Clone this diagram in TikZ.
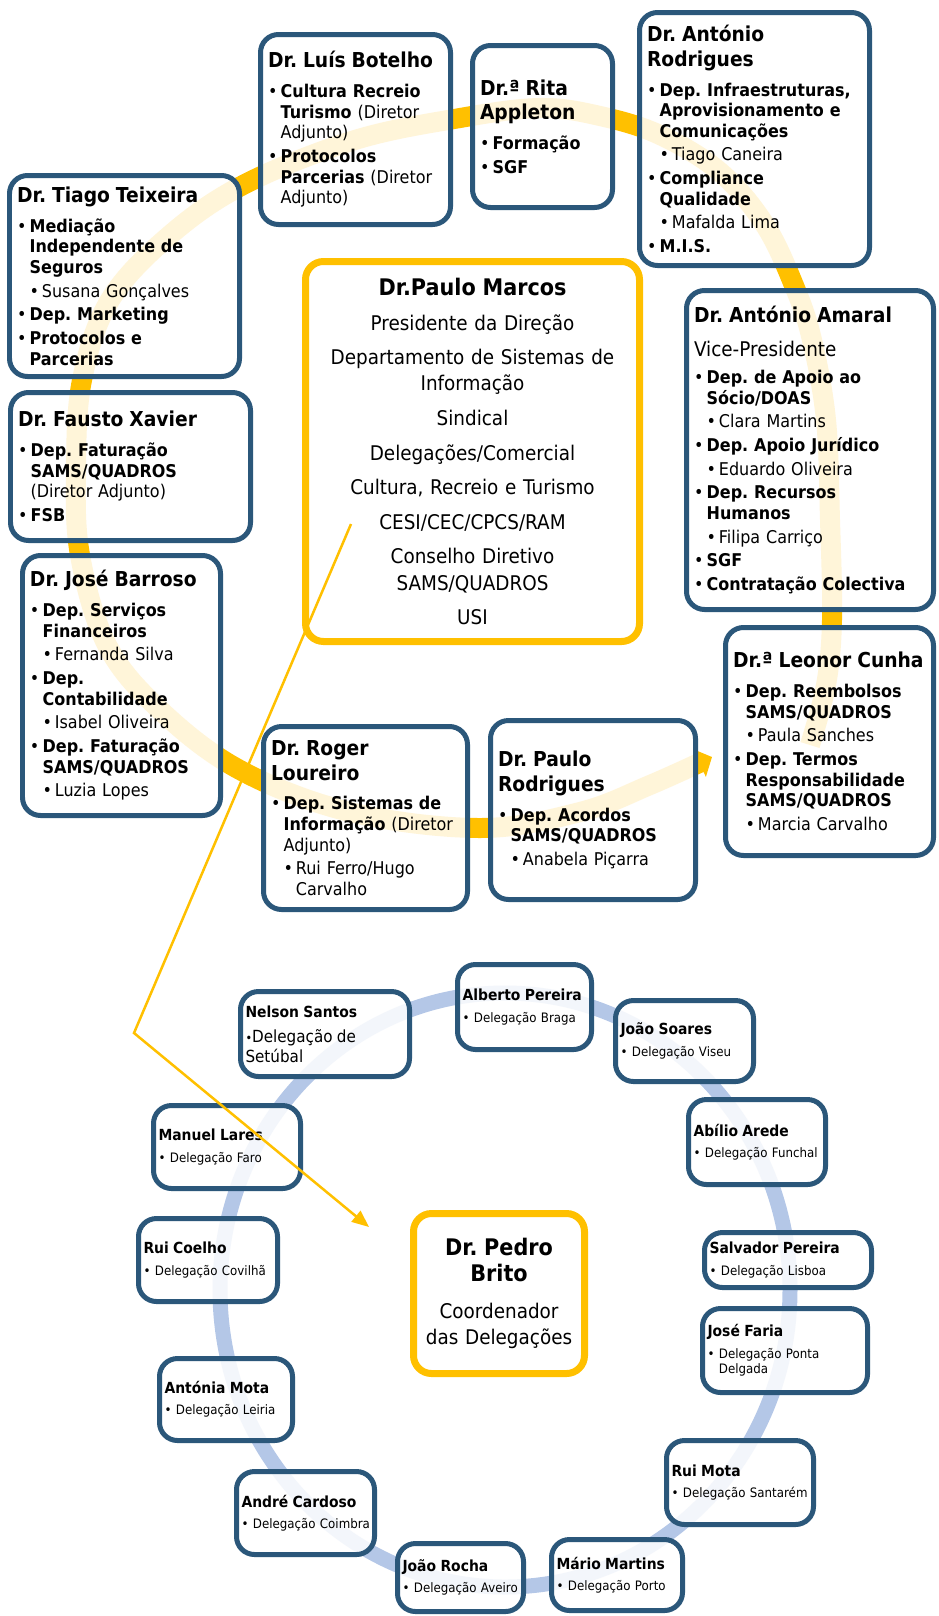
\documentclass[tikz,border=0pt]{standalone}
\usepackage{fontspec}
\setmainfont{DejaVu Sans}[FakeStretch=0.91]
\usepackage{tikz}
\usetikzlibrary{arrows.meta}

\definecolor{boxblue}{RGB}{43,87,122}
\definecolor{gold}{RGB}{255,192,0}
\definecolor{ringblue}{RGB}{180,199,231}

\hyphenpenalty=10000
\exhyphenpenalty=10000
\frenchspacing

% titulos e itens das caixas
\newcommand{\ttl}[1]{\setlength{\parskip}{1.8pt}{\fontsize{11.7}{14}\selectfont\bfseries #1\par}\vspace{3.5pt}}
\newcommand{\ttlc}[1]{\setlength{\parskip}{4.8pt}{\fontsize{13}{15}\selectfont\bfseries #1\par}}
\newcommand{\dtl}[1]{\setlength{\parskip}{3.5pt}{\fontsize{8.7}{10.5}\selectfont\bfseries #1\par}}
\newcommand{\dep}[1]{\par\hangindent=7.2pt\hangafter=1\noindent\makebox[7.2pt][l]{\textbullet}#1\par}
\newcommand{\pes}[1]{\par\hangindent=14.2pt\hangafter=1\noindent\hspace*{7.2pt}\makebox[7pt][l]{\textbullet}#1\par}
\newcommand{\sede}[1]{\par\noindent\makebox[6.5pt][l]{\textbullet}\mbox{#1}\par}
\newcommand{\sededois}[2]{\par\hangindent=6.5pt\hangafter=1\noindent\makebox[6.5pt][l]{\textbullet}\mbox{#1}\newline\mbox{#2}\par}

\begin{document}
\begin{tikzpicture}[x=0.02cm, y=-0.02cm,
    org/.style n args={2}{rectangle, rounded corners=0.36cm, draw=boxblue,
                          line width=0.1cm, fill=white, fill opacity=0.85,
                          text opacity=1, inner xsep=0pt, inner ysep=2pt,
                          minimum width=#1*0.02cm, minimum height=#2*0.02cm,
                          text width=(#1-15)*0.02cm, align=left,
                          font=\fontsize{10}{11.7}\selectfont},
    dlg/.style n args={2}{org={#1}{#2}, text width=(#1-10)*0.02cm,
                          font=\fontsize{7.4}{8.7}\selectfont},
    chefe/.style n args={2}{org={#1}{#2}, draw=gold, line width=0.14cm,
                          align=center, font=\fontsize{11.5}{14.9}\selectfont},
    seta/.style = {gold, line width=0.05cm, -{Triangle[length=0.34cm, width=0.28cm]}}
  ]
  \useasboundingbox (0,0) rectangle (938,1616);

  % seta circular da direcao
  \draw[gold, line width=0.4cm, -{Triangle[length=0.28cm, width=0.6cm]}]
    plot[smooth, tension=0.6] coordinates {
      (810,745) (826,685) (832,620) (830,520) (826,420) (812,340) (795,288)
      (765,225) (720,172) (660,135) (600,116) (540,108) (460,118) (355,140)
      (245,184) (170,235) (110,300) (82,380) (76,470) (80,555) (107,645)
      (160,710) (240,770) (350,812) (480,828) (580,812) (650,785) (712,757)};

  % anel das delegacoes
  \draw[ringblue, line width=0.3cm] (505,1290) ellipse [x radius=285, y radius=297];

  % direcao
  \node[org={190}{190}] (botelho) at (355.5,129.5) {\ttl{Dr. Luís Botelho}
    \dep{\textbf{Cultura Recreio\newline Turismo} (Diretor\newline Adjunto)}
    \dep{\textbf{Protocolos\newline Parcerias} (Diretor\newline Adjunto)}};
  \node[org={230}{201}] (teixeira) at (124.5,276) {\ttl{Dr. Tiago Teixeira}
    \dep{\textbf{Mediação\newline Independente de\newline Seguros}}
    \pes{Susana Gonçalves}
    \dep{\textbf{Dep. Marketing}}
    \dep{\textbf{Protocolos e\newline Parcerias}}};
  \node[org={140}{162}] (appleton) at (542.5,126.5) {\ttl{Dr.ª Rita\newline Appleton}
    \dep{\textbf{Formação}}
    \dep{\textbf{SGF}}};
  \node[org={230}{253}] (arodrigues) at (754.5,139) {\ttl{Dr. António\newline Rodrigues}
    \dep{\textbf{Dep. Infraestruturas,\newline Aprovisionamento e\newline Comunicações}}
    \pes{Tiago Caneira}
    \dep{\textbf{Compliance\newline Qualidade}}
    \pes{Mafalda Lima}
    \dep{\textbf{M.I.S.}}};
  \node[chefe={334}{380}] (marcos) at (472.5,451.5) {\ttlc{Dr.Paulo Marcos}
    Presidente da Direção\par
    Departamento de Sistemas de\\ Informação\par
    Sindical\par
    Delegações/Comercial\par
    Cultura, Recreio e Turismo\par
    CESI/CEC/CPCS/RAM\par
    Conselho Diretivo\\ SAMS/QUADROS\par
    USI};
  \node[org={247}{319}] (amaral) at (810,450) {\ttl{Dr. António Amaral}
    {\fontsize{11.5}{14}\selectfont Vice-Presidente\par}\vspace{2pt}
    \dep{\textbf{Dep. de Apoio ao\newline Sócio/DOAS}}
    \pes{Clara Martins}
    \dep{\textbf{Dep. Apoio Jurídico}}
    \pes{Eduardo Oliveira}
    \dep{\textbf{Dep. Recursos\newline Humanos}}
    \pes{Filipa Carriço}
    \dep{\textbf{SGF}}
    \dep{\textbf{Contratação Colectiva}}};
  \node[org={240}{148}] (xavier) at (130.5,466.5) {\ttl{Dr. Fausto Xavier}
    \dep{\textbf{Dep. Faturação\newline SAMS/QUADROS}\newline (Diretor Adjunto)}
    \dep{\textbf{FSB}}};
  \node[org={198}{260}] (barroso) at (121.5,685.5) {\ttl{Dr. José Barroso}
    \dep{\textbf{Dep. Serviços\newline Financeiros}}
    \pes{Fernanda Silva}
    \dep{\textbf{Dep.\newline Contabilidade}}
    \pes{Isabel Oliveira}
    \dep{\textbf{Dep. Faturação\newline SAMS/QUADROS}}
    \pes{Luzia Lopes}};
  \node[org={208}{228}] (cunha) at (829.5,741.5) {\ttl{Dr.ª Leonor Cunha}
    \dep{\textbf{Dep. Reembolsos\newline SAMS/QUADROS}}
    \pes{Paula Sanches}
    \dep{\textbf{Dep. Termos\newline Responsabilidade\newline SAMS/QUADROS}}
    \pes{Marcia Carvalho}};
  \node[org={204}{183}] (loureiro) at (365.5,818) {\ttl{Dr. Roger\newline Loureiro}
    \dep{\textbf{Dep. Sistemas de\newline Informação} (Diretor\newline Adjunto)}
    \pes{Rui Ferro/Hugo\newline Carvalho}};
  \node[org={205}{179}] (prodrigues) at (593,810) {\ttl{Dr. Paulo\newline Rodrigues}
    \dep{\textbf{Dep. Acordos\newline SAMS/QUADROS}}
    \pes{Anabela Piçarra}};

  % delegacoes
  \node[chefe={171}{160}] (brito) at (499,1293.5) {\ttlc{Dr. Pedro\\ Brito}
    \vspace{1.5pt}Coordenador\\ das Delegações};
  \node[dlg={169}{85}] (setubal) at (325,1034) {\dtl{Nelson Santos}
    {\fontsize{9.5}{11}\selectfont{\scriptsize\textbullet}Delegação de\newline Setúbal\par}};
  \node[dlg={134}{85}] (braga) at (524.5,1007) {\dtl{Alberto Pereira}\sede{Delegação Braga}};
  \node[dlg={138}{81}] (viseu) at (684.5,1041) {\dtl{João Soares}\sede{Delegação Viseu}};
  \node[dlg={137}{85}] (funchal) at (757,1142) {\dtl{Abílio Arede}\sede{Delegação Funchal}};
  \node[dlg={167}{55}] (lisboa) at (788,1260) {\dtl{Salvador Pereira}\sede{Delegação Lisboa}};
  \node[dlg={165}{84}] (pdelgada) at (785,1350.5) {\dtl{José Faria}\sededois{Delegação Ponta}{Delgada}};
  \node[dlg={147}{84}] (santarem) at (740,1482.5) {\dtl{Rui Mota}\sede{Delegação Santarém}};
  \node[dlg={131}{71}] (porto) at (617,1575) {\dtl{Mário Martins}\sede{Delegação Porto}};
  \node[dlg={126}{68}] (aveiro) at (460.5,1577.5) {\dtl{João Rocha}\sede{Delegação Aveiro}};
  \node[dlg={138}{83}] (coimbra) at (305.5,1513) {\dtl{André Cardoso}\sede{Delegação Coimbra}};
  \node[dlg={133}{82}] (leiria) at (226,1399.5) {\dtl{Antónia Mota}\sede{Delegação Leiria}};
  \node[dlg={139}{83}] (covilha) at (208,1260) {\dtl{Rui Coelho}\sede{Delegação Covilhã}};
  \node[dlg={147}{83}] (faro) at (227,1147) {\dtl{Manuel Lares}\sede{Delegação Faro}};

  % ligacao das delegacoes ao coordenador
  \coordinate (cesi)  at (351,524);
  \coordinate (dobra) at (134,1033);
  \coordinate (ponta) at (369,1227);
  \draw[seta] (cesi) -- (dobra) -- (ponta);
\end{tikzpicture}
\end{document}
